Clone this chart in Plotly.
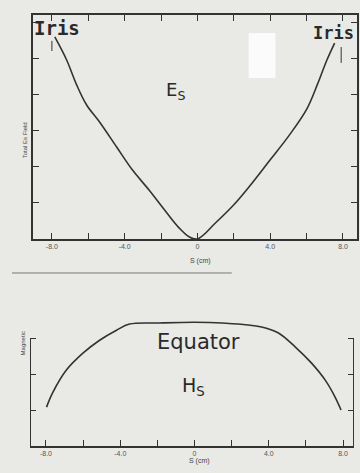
import plotly.graph_objects as go

# top panel: electric field along the cell axis
es_s = [-7.84, -7.19, -6.64, -6.09, -5.38, -4.45, -3.58, -2.66, -1.72, -1.01, -0.46, 0.0,
        1.0, 2.0, 3.0, 4.0, 5.0, 6.0, 6.6, 7.1, 7.54]
es_val = [5.61, 4.97, 4.28, 3.72, 3.25, 2.56, 1.92, 1.36, 0.75, 0.31, 0.06, 0.0,
          0.45, 0.95, 1.55, 2.2, 2.85, 3.6, 4.3, 4.95, 5.44]

# bottom panel: magnetic field at the equator
hs_s = [-7.97, -7.65, -6.9, -6.01, -5.11, -4.2, -3.5, -1.9, 0.0, 1.47, 3.61, 4.52,
        5.43, 6.29, 7.04, 7.57, 7.89]
hs_val = [1.08, 1.47, 2.11, 2.58, 2.94, 3.22, 3.39, 3.42, 3.44, 3.42, 3.31, 3.14,
          2.75, 2.31, 1.83, 1.36, 1.0]

tick_vals = [-8, -6, -4, -2, 0, 2, 4, 6, 8]
tick_text = ["-8.0", "", "-4.0", "", "0", "", "4.0", "", "8.0"]

ink = "#333333"
bg = "#e9e9e6"

fig = go.Figure()
fig.add_trace(go.Scatter(x=es_s, y=es_val, mode="lines", line=dict(color=ink, width=1.6),
                         line_shape="spline", xaxis="x", yaxis="y", showlegend=False))
fig.add_trace(go.Scatter(x=hs_s, y=hs_val, mode="lines", line=dict(color=ink, width=1.6),
                         line_shape="spline", xaxis="x2", yaxis="y2", showlegend=False))

axis_common = dict(ticks="inside", ticklen=6, tickwidth=1, tickcolor=ink,
                   tickfont=dict(size=7, color="#555", family="Liberation Sans"),
                   showgrid=False, zeroline=False, linecolor=ink, linewidth=2)

fig.update_layout(
    width=360, height=473,
    margin=dict(l=30, r=1, t=15, b=27),
    paper_bgcolor=bg, plot_bgcolor=bg,
    xaxis=dict(domain=[0.0091, 1], range=[-9.04, 8.77], anchor="y",
               tickvals=tick_vals, ticktext=tick_text, showline=True, mirror="ticks",
               **axis_common),
    yaxis=dict(domain=[0.4803, 1], range=[0, 6.22], anchor="x",
               tickvals=[0, 1, 2, 3, 4, 5, 6], showticklabels=False,
               showline=True, mirror="ticks", **axis_common),
    xaxis2=dict(domain=[0, 0.9909], range=[-8.86, 8.59], anchor="y2",
                tickvals=tick_vals, ticktext=tick_text, showline=True, **axis_common),
    yaxis2=dict(domain=[0, 0.3155], range=[0, 3.78], anchor="x2",
                tickvals=[0, 1, 2, 3], showticklabels=False,
                showline=False, mirror="ticks", **axis_common),
)

# partial vertical axis lines of the lower panel
for xv in (-8.86, 8.59):
    fig.add_shape(type="line", xref="x2", yref="y2", x0=xv, x1=xv, y0=0, y1=3,
                  line=dict(color=ink, width=2))

# little iris marks under the labels
fig.add_shape(type="line", xref="x", yref="y", x0=-8.0, x1=-8.0, y0=5.22, y1=5.5,
              line=dict(color=ink, width=1))
fig.add_shape(type="line", xref="x", yref="y", x0=7.9, x1=7.9, y0=4.89, y1=5.33,
              line=dict(color=ink, width=1))

# divider between the panels and the bright scan patch
fig.add_shape(type="line", xref="paper", yref="paper", x0=-0.055, x1=0.617, y0=0.4014, y1=0.4014,
              line=dict(color="#777", width=1))
fig.add_shape(type="rect", xref="paper", yref="paper", x0=0.6687, x1=0.7508, y0=0.8538, y1=0.9582,
              fillcolor="#fbfbfb", line=dict(width=0))

big = dict(family="DejaVu Sans", color="#2a2a2a")
mono = dict(family="DejaVu Sans Mono", color="#2a2a2a")
fig.add_annotation(x=-7.73, y=5.86, xref="x", yref="y", text="<b>Iris</b>", showarrow=False,
                   font=dict(size=19, **mono))
fig.add_annotation(x=7.46, y=5.72, xref="x", yref="y", text="<b>Iris</b>", showarrow=False,
                   font=dict(size=17, **mono))
fig.add_annotation(x=-1.2, y=4.1, xref="x", yref="y", text="E<sub>S</sub>", showarrow=False,
                   font=dict(size=18, **big))
fig.add_annotation(x=0.24, y=2.89, xref="x2", yref="y2", text="Equator", showarrow=False,
                   font=dict(size=21, **big))
fig.add_annotation(x=-0.05, y=1.65, xref="x2", yref="y2", text="H<sub>S</sub>", showarrow=False,
                   font=dict(size=19, **big))

small = dict(size=7, color="#444", family="Liberation Sans")
fig.add_annotation(x=0.52, y=0.4292, xref="paper", yref="paper", text="S (cm)",
                   showarrow=False, font=small)
fig.add_annotation(x=0.517, y=-0.0487, xref="paper", yref="paper", text="S (cm)",
                   showarrow=False, font=small)
fig.add_annotation(x=-0.03, y=0.756, xref="paper", yref="paper", text="Total Es Field",
                   textangle=-90, showarrow=False, font=dict(size=6, color="#444", family="Liberation Sans"))
fig.add_annotation(x=-0.036, y=0.206, xref="paper", yref="paper", text="Magnetic",
                   textangle=-90, showarrow=False, font=dict(size=6, color="#444", family="Liberation Sans"))

fig.write_html("out.html", config={"displayModeBar": False},
               post_script="document.body.style.margin='0';")
